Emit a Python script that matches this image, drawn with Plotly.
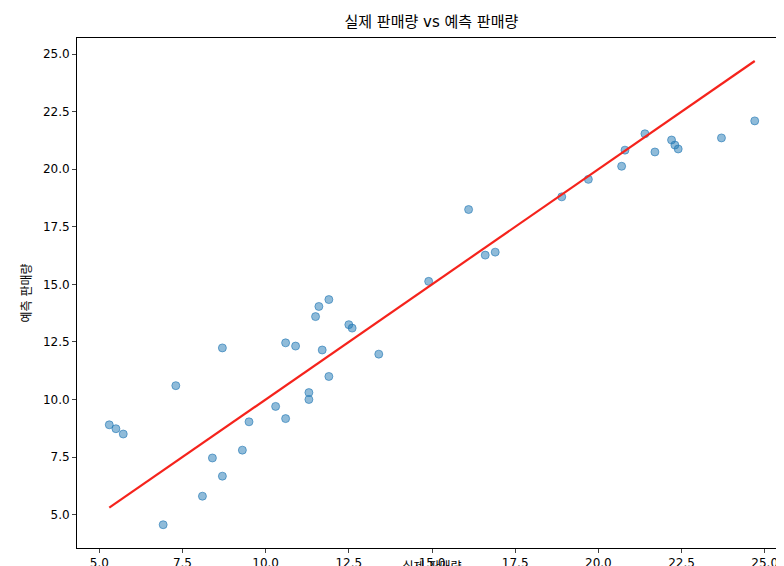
import plotly.graph_objects as go

# actual vs predicted values
actual = [5.3, 5.5, 5.72, 6.92, 7.3, 8.1, 8.4, 8.7, 8.7, 9.3, 9.5, 10.3, 10.6, 10.6, 10.9,
          11.3, 11.3, 11.5, 11.6, 11.7, 11.9, 11.9, 12.5, 12.6, 13.4, 14.9, 16.1, 16.6, 16.9,
          18.9, 19.7, 20.7, 20.8, 21.4, 21.7, 22.2, 22.3, 22.4, 23.7, 24.7]
predicted = [8.9, 8.73, 8.5, 4.56, 10.6, 5.8, 7.46, 12.24, 6.67, 7.8, 9.03, 9.7, 9.17, 12.46, 12.32,
             10.3, 10.0, 13.6, 14.04, 12.15, 14.34, 11.0, 13.25, 13.1, 11.97, 15.13, 18.25, 16.27, 16.4,
             18.8, 19.56, 20.13, 20.83, 21.54, 20.75, 21.27, 21.05, 20.88, 21.36, 22.1]
line_ends = [min(actual), max(actual)]

font = "DejaVu Sans, Noto Sans CJK KR"

fig = go.Figure()
fig.add_trace(go.Scatter(x=actual, y=predicted, mode="markers",
                         marker=dict(color="rgba(31,119,180,0.5)", size=8,
                                     line=dict(color="rgba(31,119,180,0.6)", width=1))))
fig.add_trace(go.Scatter(x=line_ends, y=line_ends, mode="lines",
                         line=dict(color="#f5231c", width=2.2)))

axis = dict(showline=True, linecolor="black", mirror=True, ticks="outside", ticklen=4,
            showgrid=False, zeroline=False, tickfont=dict(size=12, color="black"),
            tickformat=".1f", dtick=2.5, automargin=False)
fig.update_layout(
    width=784, height=566, showlegend=False,
    plot_bgcolor="white", paper_bgcolor="white",
    font=dict(family=font, color="black"),
    margin=dict(l=69, r=5, t=30, b=26),
    title=dict(text="실제 판매량 vs 예측 판매량", x=0.54, xanchor="center", y=0.985,
               font=dict(size=15)),
    xaxis=dict(axis, range=[4.33, 25.67], tick0=5,
               title=dict(text="실제 판매량", font=dict(size=12), standoff=4)),
    yaxis=dict(axis, range=[3.55, 25.7], tick0=5,
               title=dict(text="예측 판매량", font=dict(size=12), standoff=8)),
)
fig.write_html("out.html")
